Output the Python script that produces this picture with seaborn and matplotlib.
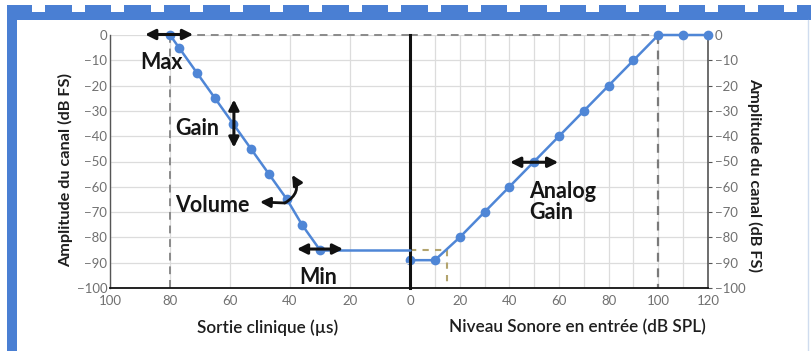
import numpy as np
import matplotlib
matplotlib.use("Agg")
import matplotlib.pyplot as plt
import seaborn as sns
from matplotlib.patches import Rectangle

# ---------------- data ----------------
left_x = [80, 77, 71, 65, 59, 53, 47, 41, 36, 30]          # Sortie clinique (µs)
left_y = [0, -5, -15, -25, -35, -45, -55, -65, -75, -85]    # Amplitude (dB FS)
min_level = -85
right_x = [0, 10, 20, 30, 40, 50, 60, 70, 80, 90, 100, 110, 120]   # Niveau sonore (dB SPL)
right_y = [-89, -89, -80, -70, -60, -50, -40, -30, -20, -10, 0, 0, 0]
left_ticks = [100, 80, 60, 40, 20, 0]
right_ticks = [20, 40, 60, 80, 100, 120]
y_ticks = [0, -10, -20, -30, -40, -50, -60, -70, -80, -90, -100]
max_output = 80
max_input = 100
knee_input = 15

sns.set_theme(style="white")
plt.rcParams['font.family'] = ['Lato', 'DejaVu Sans']

W, H = 811, 351
fig = plt.figure(figsize=(W / 100, H / 100), dpi=100)
fig.patch.set_facecolor("white")

def fx(px):
    return px / W

def fy(py):
    return 1 - py / H

axR = fig.add_axes([fx(410), fy(288), fx(298), 253 / H])
axL = fig.add_axes([fx(110), fy(288), fx(300), 253 / H])
axL.patch.set_alpha(0)

blue = "#4f86d6"
grid_c = "#dcdcdc"
tick_c = "#707070"

for ax in (axL, axR):
    ax.set_ylim(-100, 0)
    ax.set_yticks(y_ticks)
    ax.grid(True, axis="y", color=grid_c, lw=0.9)
    ax.tick_params(axis="both", colors="#555555", labelcolor=tick_c, labelsize=9.5,
                   length=3, width=0.8, pad=2)
    ax.spines["top"].set_visible(False)
    ax.spines["bottom"].set_color("#111111")
    ax.spines["bottom"].set_linewidth(1.3)

# left panel
axL.set_xlim(100, 0)
axL.set_xticks(left_ticks)
axL.grid(True, axis="x", color=grid_c, lw=0.9)
axL.spines["left"].set_color("#555555")
axL.spines["left"].set_linewidth(1.0)
axL.spines["right"].set_color("#111111")
axL.spines["right"].set_linewidth(2.2)
axL.tick_params(axis="x", length=0, pad=5)
axL.tick_params(axis="y", length=0, pad=2)

# right panel
axR.set_xlim(0, 120)
axR.set_xticks(right_ticks)
axR.set_xticks(np.arange(0, 121, 10), minor=True)
axR.grid(True, axis="x", which="both", color=grid_c, lw=0.9)
axR.tick_params(axis="x", which="both", length=0, pad=5)
axR.yaxis.tick_right()
axR.tick_params(axis="y", length=3, pad=2)
axR.spines["left"].set_visible(False)
axR.spines["right"].set_color("#555555")
axR.spines["right"].set_linewidth(1.2)

# reference dashed lines
axL.plot([max_output, 0], [0, 0], ls=(0, (4, 3)), color="#8a8a8a", lw=1.4, clip_on=False, zorder=2)
axL.plot([max_output, max_output], [0, -100], ls=(0, (4, 3)), color="#8a8a8a", lw=1.4, zorder=2)
axR.plot([0, max_input], [0, 0], ls=(0, (4, 3)), color="#8a8a8a", lw=1.4, clip_on=False, zorder=2)
axR.plot([max_input, max_input], [0, -100], ls=(0, (4, 3)), color="#7a7a7a", lw=1.6, zorder=2)
axR.plot([0, knee_input], [min_level, min_level], ls=(0, (3, 3)), color="#b3a46e", lw=1.5, zorder=2)
axR.plot([knee_input, knee_input], [min_level, -100], ls=(0, (3, 3)), color="#b3a46e", lw=1.5, zorder=2)

# curves
axL.plot([left_x[-1], 0], [min_level, min_level], color=blue, lw=1.8, zorder=3, clip_on=False)
sns.lineplot(x=left_x, y=left_y, sort=False, ax=axL, color=blue, lw=1.8, marker="o",
             markersize=7, markeredgewidth=0, zorder=4, clip_on=False)
sns.lineplot(x=right_x, y=right_y, sort=False, ax=axR, color=blue, lw=1.8, marker="o",
             markersize=7, markeredgewidth=0, zorder=4, clip_on=False)

# annotations
arr = dict(arrowstyle="<|-|>,head_length=0.5,head_width=0.25", color="#111111", lw=2.2,
           shrinkA=0, shrinkB=0)
axL.annotate("", xy=(88.3, 0.2), xytext=(72.3, 0.2), arrowprops=arr, annotation_clip=False, zorder=6)
axL.annotate("", xy=(58.7, -25.5), xytext=(58.7, -44.5), arrowprops=arr, zorder=6)
axL.annotate("", xy=(37.7, -84.6), xytext=(22.3, -84.6), arrowprops=arr, zorder=6)
axR.annotate("", xy=(40.3, -50.3), xytext=(59.7, -50.3), arrowprops=arr, zorder=6)
one = dict(arrowstyle="-|>,head_length=0.5,head_width=0.25", color="#111111", lw=2.0,
           shrinkA=0, shrinkB=0)
axL.annotate("", xy=(50.0, -66.0), xytext=(41.7, -66.4), arrowprops=one, zorder=6)
axL.annotate("", xy=(39.3, -55.3), xytext=(41.7, -66.4),
             arrowprops=dict(one, connectionstyle="arc3,rad=0.5"), zorder=6)

tkw = dict(fontsize=15.5, fontweight="bold", color="#151515", zorder=7)
axL.text(83.0, -10.8, "Max", ha="center", va="center", **tkw)
axL.text(70.8, -36.8, "Gain", ha="center", va="center", **tkw)
axL.text(66.0, -67.3, "Volume", ha="center", va="center", **tkw)
axL.text(30.5, -95.8, "Min", ha="center", va="center", **tkw)
axR.text(48.0, -66.0, "Analog\nGain", ha="left", va="center", linespacing=1.05, **tkw)

# axis labels
fig.text(fx(66), fy(170), "Amplitude du canal (dB FS)", rotation=90, ha="center", va="center",
         fontsize=11.7, fontweight="bold", color="#1e1e1e")
fig.text(fx(755), fy(175), "Amplitude du canal (dB FS)", rotation=-90, ha="center", va="center",
         fontsize=11.7, fontweight="bold", color="#1e1e1e")
fig.text(fx(268), fy(328), "Sortie clinique (µs)", ha="center", va="center",
         fontsize=12.3, fontweight="semibold", color="#1e1e1e")
fig.text(fx(577), fy(327), "Niveau Sonore en entrée (dB SPL)", ha="center", va="center",
         fontsize=12.3, fontweight="semibold", color="#1e1e1e")

# decorative blue frame
frame_c = "#4a7fd3"
def frect(x0, y0, x1, y1):
    fig.add_artist(Rectangle((fx(x0), fy(y1)), fx(x1 - x0), (y1 - y0) / H,
                             transform=fig.transFigure, lw=0, color=frame_c))
frect(7, 5, 17, 351)
frect(7, 12, 811, 20)
prev = 17.0
n = 32.0
while n < 811:
    frect(prev, 5, n, 12.5)
    prev = n + 13
    n += 39.6
if prev < 811:
    frect(prev, 5, 811, 12.5)
fig.add_artist(plt.Line2D([fx(808), fx(808)], [fy(20), fy(351)], transform=fig.transFigure,
                          color="#cfdcef", lw=1))

fig.savefig("out.png", dpi=100)
